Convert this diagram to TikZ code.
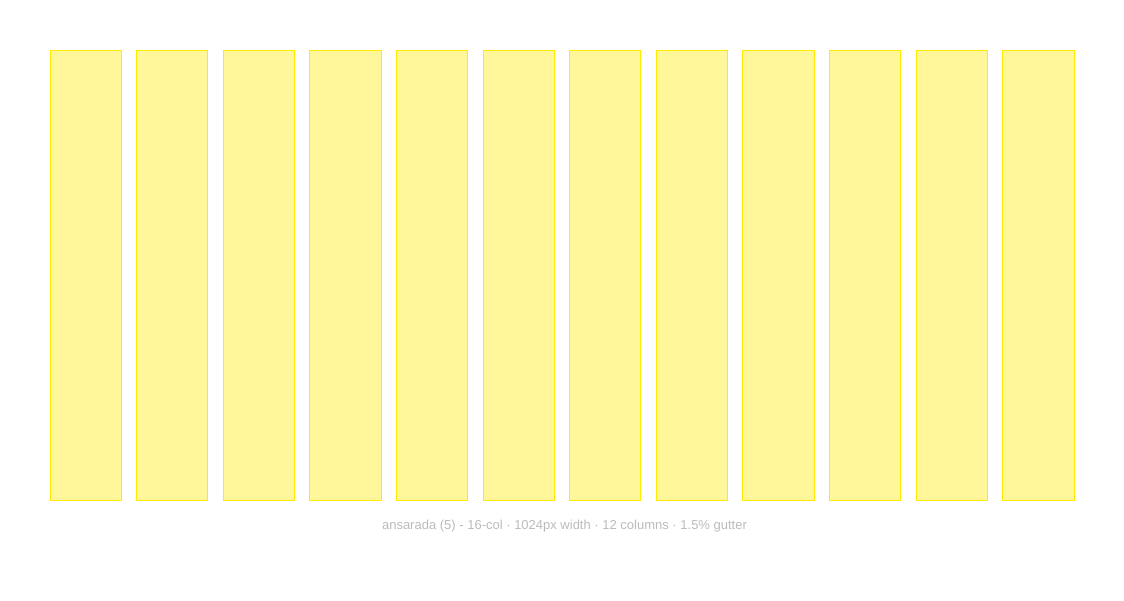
\documentclass[tikz,border=0pt]{standalone}
\usepackage{fontspec}
\setmainfont{Liberation Sans}
\definecolor{colfill}{HTML}{FFF799}
\definecolor{colline}{HTML}{FFEA00}
\definecolor{captext}{HTML}{BBBBBB}
\begin{document}
\begin{tikzpicture}[x=1pt,y=-1pt,
  gridcol/.style={draw=colline,fill=colfill,line width=1pt},
  caption/.style={text=captext,font=\fontsize{13}{15}\selectfont,inner sep=0pt}]
\useasboundingbox (0,0) rectangle (1124,600);
\foreach \i in {0,...,11}{
  \pgfmathsetmacro{\xl}{floor(50+\i*86.61)+0.5}
  \pgfmathsetmacro{\xr}{floor(50+\i*86.61+71.3)+0.5}
  \path[gridcol] (\xl,50.5) rectangle (\xr,500.5);
}
\node[caption] (cap) at (564.5,526) {ansarada (5) - 16-col · 1024px width · 12 columns · 1.5\% gutter};
\end{tikzpicture}
\end{document}
